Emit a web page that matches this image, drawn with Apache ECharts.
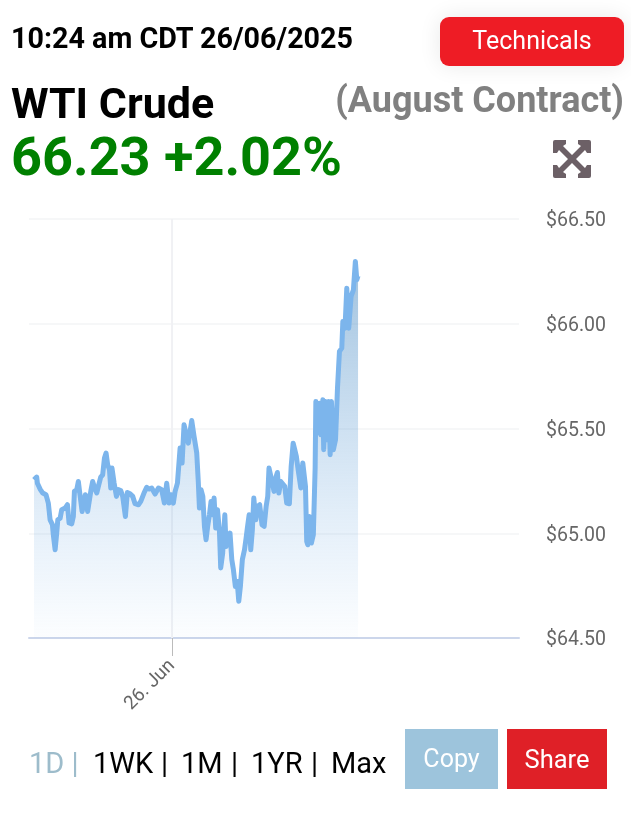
<!DOCTYPE html>
<html>
<head>
<meta charset="utf-8">
<script src="https://cdn.jsdelivr.net/npm/echarts@6/dist/echarts.min.js"></script>
<style>
html, body { margin: 0; padding: 0; background: #fff; font-family: Roboto, sans-serif; overflow: hidden; }
#page { position: relative; width: 631px; height: 815px; }
#chart { position: absolute; left: 0; top: 0; width: 631px; height: 815px; }
.txt { position: absolute; white-space: nowrap; line-height: 1; }
.btn { position: absolute; color: #fff; text-align: center; }
.rng { position: absolute; top: 749px; font-size: 29px; line-height: 1; white-space: nowrap; color: #000; }
.rng.on { color: #9dbccb; }
</style>
</head>
<body>
<div id="page">
    <div id="chart"></div>
    <div class="txt" style="left:11px;top:24px;font-size:28.7px;font-weight:700;color:#000">10:24 am CDT 26/06/2025</div>
    <div class="btn" style="left:440px;top:17px;width:184px;height:49px;line-height:48px;background:#ee1c25;border-radius:9px;font-size:25px;box-shadow:0 0 22px rgba(0,0,0,0.09)">Technicals</div>
    <div class="txt" style="left:11px;top:82px;font-size:43px;font-weight:700;color:#000">WTI Crude</div>
    <div class="txt" style="right:7px;top:82px;font-size:36px;font-weight:700;color:#808080">(August Contract)</div>
    <div class="txt" style="left:11px;top:130px;font-size:54px;font-weight:700;color:#008000">66.23 +2.02%</div>
    <svg style="position:absolute;left:553px;top:140px" width="38" height="38" viewBox="0 0 38 38">
        <rect width="38" height="38" rx="2" fill="#6c6066"/>
        <g fill="#fff">
            <path id="notch" d="M13 0 L25 0 L25 4 L28 6 L19 15 L10 6 L13 4 Z"/>
            <path d="M13 0 L25 0 L25 4 L28 6 L19 15 L10 6 L13 4 Z" transform="rotate(90 19 19)"/>
            <path d="M13 0 L25 0 L25 4 L28 6 L19 15 L10 6 L13 4 Z" transform="rotate(180 19 19)"/>
            <path d="M13 0 L25 0 L25 4 L28 6 L19 15 L10 6 L13 4 Z" transform="rotate(270 19 19)"/>
        </g>
    </svg>
    <span class="rng on" style="left:29px">1D |</span>
    <span class="rng" style="left:93px">1WK</span>
    <span class="rng" style="left:161px">|</span>
    <span class="rng" style="left:181px">1M</span>
    <span class="rng" style="left:231px">|</span>
    <span class="rng" style="left:251px">1YR</span>
    <span class="rng" style="left:311px">|</span>
    <span class="rng" style="left:331px">Max</span>
    <div class="btn" style="left:405px;top:729px;width:93px;height:60px;line-height:60px;background:#9dc4dc;font-size:25px">Copy</div>
    <div class="btn" style="left:507px;top:729px;width:100px;height:60px;line-height:60px;background:#df2027;font-size:25.5px">Share</div>
</div>
<script>
// hours relative to 26 Jun 00:00
var hours = [-7.72,-7.57,-7.53,-7.38,-7.23,-7.05,-6.92,-6.82,-6.69,-6.64,-6.54,-6.45,-6.39,-6.26,-6.17,-5.98,-5.85,-5.76,-5.61,-5.52,
    -5.46,-5.33,-5.24,-5.15,-5.03,-4.92,-4.85,-4.72,-4.62,-4.53,-4.44,-4.33,-4.21,-4.10,-3.99,-3.88,-3.78,-3.69,-3.60,-3.50,
    -3.43,-3.36,-3.24,-3.11,-3.00,-2.87,-2.76,-2.61,-2.50,-2.35,-2.20,-2.07,-1.88,-1.75,-1.57,-1.42,-1.27,-1.14,-0.95,-0.76,
    -0.58,-0.43,-0.30,-0.17,-0.06,0.07,0.17,0.30,0.45,0.56,0.67,0.78,0.91,1.10,1.23,1.38,1.47,1.53,
    1.62,1.72,1.81,1.90,1.99,2.09,2.18,2.27,2.35,2.44,2.54,2.65,2.72,2.83,2.95,3.02,3.13,3.24,3.34,3.43,
    3.54,3.64,3.73,3.82,3.93,4.05,4.14,4.21,4.31,4.40,4.49,4.57,4.68,4.77,4.90,5.03,5.15,5.26,5.35,5.42,
    5.52,5.61,5.70,5.82,5.89,5.97,6.08,6.19,6.30,6.41,6.56,6.66,6.77,6.86,6.95,7.05,7.20,7.31,7.38,7.46,
    7.53,7.59,7.68,7.79,7.90,8.00,8.04,8.13,8.24,8.32,8.43,8.48,8.58,8.69,8.76,8.84,8.91,9.02,9.14,9.25,
    9.32,9.36,9.49,9.55,9.67,9.77,9.88,10.01,10.14,10.25,10.33,10.40];
var prices = [65.255,65.268,65.239,65.211,65.192,65.184,65.144,65.064,65.041,64.993,64.921,65.001,65.064,65.072,65.112,65.120,65.136,65.049,65.045,65.080,
    65.200,65.208,65.247,65.184,65.104,65.104,65.184,65.104,65.104,65.208,65.247,65.216,65.192,65.231,65.268,65.279,65.359,65.383,65.327,65.303,
    65.216,65.311,65.239,65.176,65.208,65.204,65.176,65.080,65.195,65.189,65.176,65.141,65.136,65.152,65.192,65.219,65.211,65.216,65.187,65.216,
    65.208,65.144,65.239,65.144,65.184,65.144,65.200,65.239,65.407,65.335,65.518,65.510,65.430,65.538,65.462,65.383,65.239,65.120,
    65.208,65.176,65.033,64.969,65.033,65.088,65.152,65.088,65.168,65.025,65.112,65.009,64.834,64.905,65.088,64.937,64.985,65.001,64.874,64.826,
    64.746,64.770,64.675,64.746,64.874,64.921,64.977,65.025,65.088,64.921,65.017,65.168,65.064,65.128,65.136,65.041,65.033,65.128,65.176,65.311,
    65.303,65.239,65.200,65.271,65.290,65.192,65.247,65.239,65.224,65.144,65.141,65.319,65.430,65.399,65.367,65.303,65.216,65.335,65.327,65.224,
    64.961,64.945,65.080,64.953,64.993,65.311,65.629,65.478,65.621,65.470,65.637,65.399,65.629,65.446,65.629,65.375,65.629,65.399,65.446,65.693,
    65.701,65.868,65.884,66.011,65.979,66.170,65.979,66.130,66.162,66.297,66.210,66.229];
var xTicks = [0];
var xTickLabels = ["26. Jun"];

var seriesData = [];
for(var i = 0, len = hours.length; i < len; i++){
    seriesData.push([hours[i], prices[i]]);
}

var option = {
    animation: false,
    grid: { left: 29, right: 112, top: 219, height: 419 },
    xAxis: {
        type: 'value',
        min: -8,
        max: 19.4,
        axisLine: { onZero: false, lineStyle: { color: '#ccd6eb', width: 2 } },
        axisTick: { customValues: xTicks, length: 18, lineStyle: { color: '#bbbbbb', width: 1 } },
        splitLine: { show: false },
        axisLabel: {
            customValues: xTicks,
            rotate: 45,
            margin: 25,
            fontFamily: 'Roboto',
            fontSize: 19,
            color: '#666666',
            formatter: function(v){ return xTickLabels[xTicks.indexOf(v)]; }
        }
    },
    yAxis: {
        type: 'value',
        position: 'right',
        min: 64.5,
        max: 66.5,
        interval: 0.5,
        axisLine: { show: false },
        axisTick: { show: false },
        splitLine: { lineStyle: { color: '#f6f7f8', width: 2 } },
        axisLabel: {
            margin: 27,
            verticalAlign: 'top',
            lineHeight: 5,
            fontFamily: 'Roboto',
            fontSize: 19.5,
            color: '#666666',
            formatter: function(v){ return '$' + v.toFixed(2); }
        }
    },
    series: [
        {
            type: 'line',
            data: [[0, 64.5], [0, 66.5]],
            silent: true,
            showSymbol: false,
            lineStyle: { color: '#f0f1f4', width: 2 },
            z: 1
        },
        {
            type: 'line',
            data: seriesData,
            showSymbol: false,
            smooth: false,
            sampling: false,
            lineStyle: { color: '#7cb5ec', width: 5, join: 'round' },
            areaStyle: {
                color: {
                    type: 'linear', x: 0, y: 0, x2: 0, y2: 1,
                    colorStops: [
                        { offset: 0, color: 'rgba(85,145,195,0.8)' },
                        { offset: 1, color: 'rgba(124,181,236,0.03)' }
                    ]
                }
            },
            z: 2
        }
    ]
};

var myChart = echarts.init(document.getElementById('chart'));
myChart.setOption(option);
</script>
</body>
</html>
